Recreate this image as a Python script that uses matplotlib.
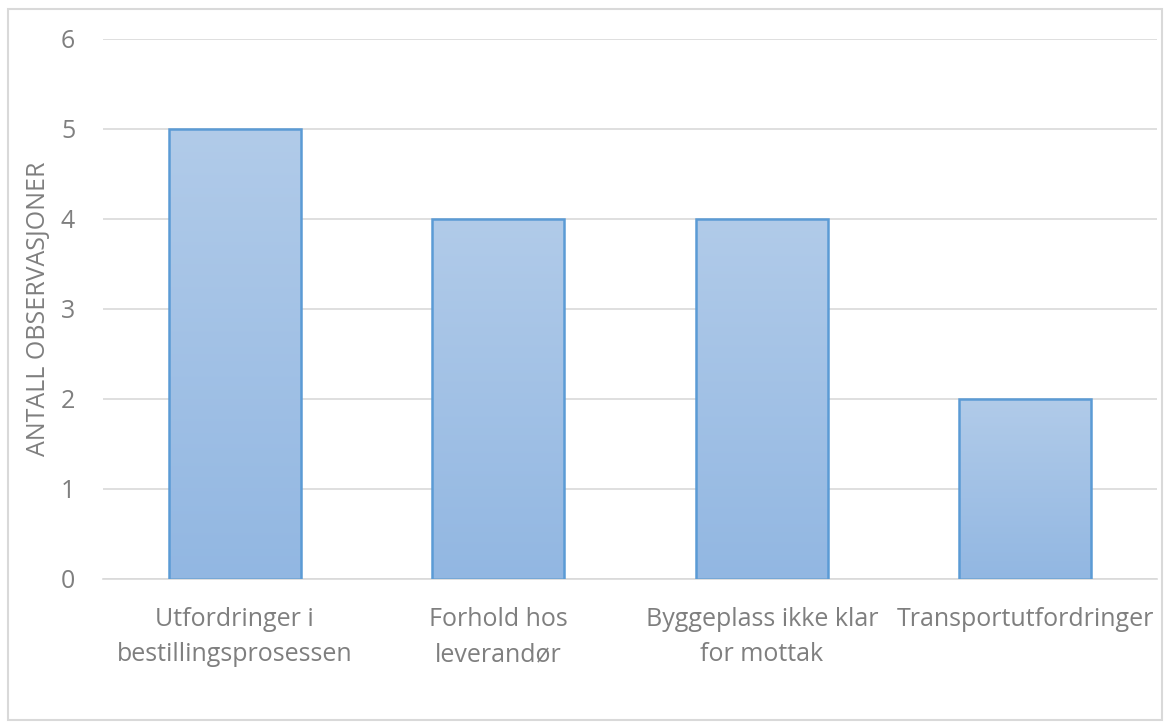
import numpy as np
import matplotlib.pyplot as plt
from matplotlib.colors import LinearSegmentedColormap
from matplotlib.patches import Rectangle

categories = ['Utfordringer i\nbestillingsprosessen', 'Forhold hos\nleverandør',
              'Byggeplass ikke klar\nfor mottak', 'Transportutfordringer']
values = [5, 4, 4, 2]

plt.rcParams['font.family'] = ['Open Sans', 'DejaVu Sans']
grey = '#7f7f7f'

fig = plt.figure(figsize=(11.68, 7.26), dpi=100)
ax = fig.add_axes([0.0882, 0.2025, 0.9024, 0.7438])

x = np.arange(len(categories))
bars = ax.bar(x, values, width=0.5, color='none', edgecolor='#5b9bd5', linewidth=1.8, zorder=3)

# gradient fill per bar, light at top, darker at bottom
cmap = LinearSegmentedColormap.from_list('g', ['#92b7e2', '#b1cbe9'])
grad = np.linspace(0, 1, 256).reshape(-1, 1)
for b in bars:
    x0, y0 = b.get_x(), b.get_y()
    im = ax.imshow(grad, extent=[x0, x0 + b.get_width(), y0, y0 + b.get_height()],
                   origin='lower', cmap=cmap, aspect='auto', zorder=2)
    im.set_clip_path(b)

ax.set_xlim(-0.5, len(categories) - 0.5)
ax.set_ylim(0, 6)
ax.set_yticks(range(7))
ax.yaxis.grid(True, color='#d9d9d9', linewidth=1.2, zorder=0)
ax.set_axisbelow(True)
for s in ['top', 'right', 'left']:
    ax.spines[s].set_visible(False)
ax.spines['bottom'].set_color('#d9d9d9')
ax.spines['bottom'].set_linewidth(1.2)

ax.set_xticks(x)
ax.set_xticklabels(categories, fontsize=18, color=grey, linespacing=1.55)
ax.tick_params(axis='x', length=0, pad=20)
ax.tick_params(axis='y', length=0, pad=20, labelsize=18, labelcolor=grey)
ax.set_ylabel('ANTALL OBSERVASJONER', fontsize=18, color=grey, labelpad=7)

fig.patches.append(Rectangle((8 / 1168, 6 / 726), 1 - 14 / 1168, 1 - 15 / 726,
                             transform=fig.transFigure, fill=False,
                             edgecolor='#d9d9d9', linewidth=1.5))

fig.savefig('out.png', dpi=100)
